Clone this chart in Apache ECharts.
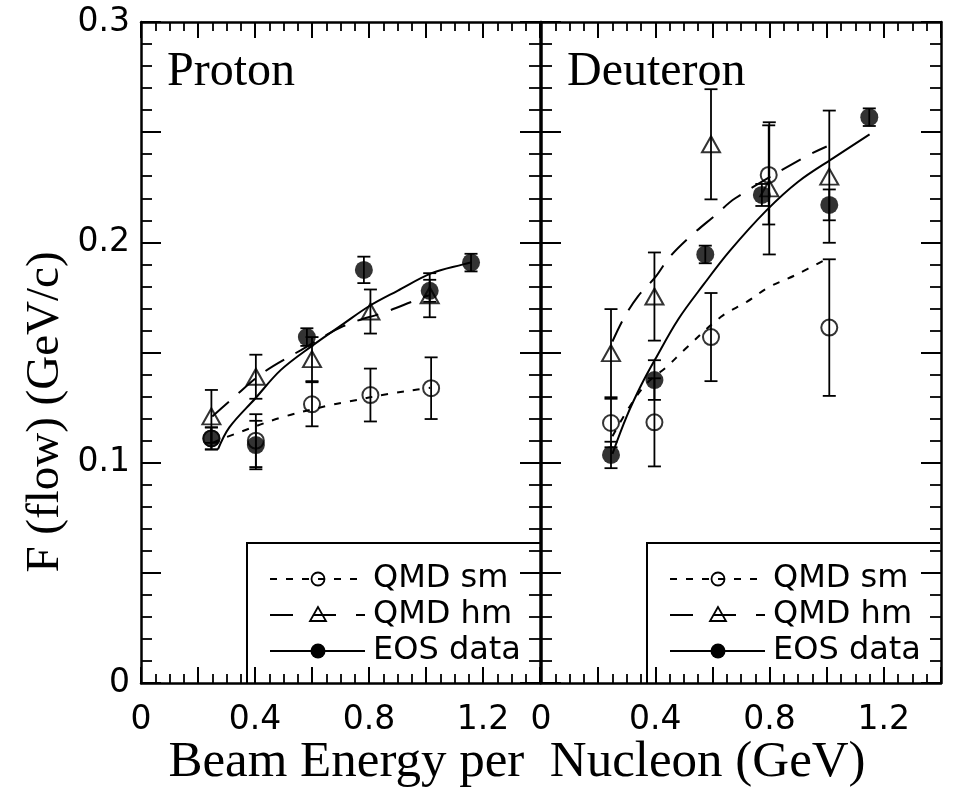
<!DOCTYPE html>
<html>
<head>
<meta charset="utf-8">
<script src="https://cdn.jsdelivr.net/npm/echarts@6/dist/echarts.min.js"></script>
<style>
html, body { margin: 0; padding: 0; background: #fff; }
#chart { width: 956px; height: 793px; }
</style>
</head>
<body>
<div id="chart"></div>
<script>
// Tick labels
const xTickLabels = ['0', '0.4', '0.8', '1.2'];
const yTickLabels = ['0', '0.1', '0.2', '0.3'];
const panelNames = ['Proton', 'Deuteron'];
const legendNames = ['QMD sm', 'QMD hm', 'EOS data'];
const xTitle = 'Beam Energy per  Nucleon (GeV)';
const yTitle = 'F (flow) (GeV/c)';

// Proton, QMD sm (open circles)
const pSmE = [0.247, 0.403, 0.600, 0.805, 1.018];
const pSmF = [0.111, 0.110, 0.1265, 0.1307, 0.1338];
const pSmErr = [0.005, 0.012, 0.010, 0.012, 0.014];
// Proton, QMD hm (open triangles)
const pHmE = [0.247, 0.403, 0.600, 0.805, 1.013];
const pHmF = [0.121, 0.139, 0.147, 0.1686, 0.176];
const pHmErr = [0.012, 0.010, 0.010, 0.010, 0.010];
// Proton, EOS data (filled circles)
const pEosE = [0.247, 0.403, 0.582, 0.782, 1.013, 1.158];
const pEosF = [0.111, 0.108, 0.157, 0.1875, 0.178, 0.1908];
const pEosErr = [0.005, 0.011, 0.004, 0.006, 0.005, 0.004];
// Proton, fitted curves
const pSmCurveE = [0.25, 0.335, 0.50, 0.664, 0.723, 0.876, 0.97, 1.015];
const pSmCurveF = [0.109, 0.1133, 0.1208, 0.1261, 0.1276, 0.1314, 0.1332, 0.134];
const pHmCurveE = [0.25, 0.32, 0.43, 0.56, 0.71, 0.86, 0.95, 1.01];
const pHmCurveF = [0.121, 0.129, 0.141, 0.151, 0.162, 0.1685, 0.173, 0.176];
const pEosCurveE = [0.27, 0.31, 0.40, 0.49, 0.60, 0.71, 0.80, 0.90, 1.02, 1.13, 1.16];
const pEosCurveF = [0.106, 0.116, 0.129, 0.142, 0.153, 0.163, 0.171, 0.178, 0.186, 0.190, 0.191];

// Deuteron, QMD sm (open circles)
const dSmE = [0.245, 0.397, 0.595, 0.797, 1.009];
const dSmF = [0.118, 0.1183, 0.157, 0.2306, 0.1613];
const dSmErr = [0.011, 0.020, 0.020, 0.0225, 0.031];
// Deuteron, QMD hm (open triangles)
const dHmE = [0.245, 0.397, 0.595, 0.799, 1.009];
const dHmF = [0.1497, 0.1754, 0.2445, 0.2245, 0.2298];
const dHmErr = [0.020, 0.020, 0.025, 0.030, 0.030];
// Deuteron, EOS data (filled circles)
const dEosE = [0.245, 0.397, 0.575, 0.773, 1.009, 1.149];
const dEosF = [0.1035, 0.1375, 0.1945, 0.2215, 0.217, 0.2568];
const dEosErr = [0.006, 0.009, 0.004, 0.005, 0.007, 0.004];
// Deuteron, fitted curves
const dSmCurveE = [0.25, 0.31, 0.37, 0.44, 0.50, 0.63, 0.72, 0.80, 0.89, 1.0];
const dSmCurveF = [0.112, 0.1254, 0.136, 0.1435, 0.151, 0.1662, 0.173, 0.1798, 0.1851, 0.1925];
const dHmCurveE = [0.25, 0.29, 0.34, 0.40, 0.45, 0.52, 0.61, 0.68, 0.92, 1.0];
const dHmCurveF = [0.155, 0.1656, 0.1756, 0.1842, 0.1933, 0.2024, 0.2123, 0.22, 0.2385, 0.2435];
const dEosCurveE = [0.25, 0.30, 0.35, 0.40, 0.48, 0.57, 0.66, 0.79, 0.90, 1.02, 1.15];
const dEosCurveF = [0.104, 0.121, 0.135, 0.147, 0.165, 0.181, 0.196, 0.2146, 0.2275, 0.238, 0.249];

const BLACK = '#000';
const SANS = '"DejaVu Sans"';
const SERIF = '"Liberation Serif"';
const SM_DASH = [7, 9];
const HM_DASH = [22, 13];

function pairs(E, F) { return E.map((e, i) => [e, F[i]]); }

function xLabel(v) {
  const k = Math.round(v * 10);
  return k % 4 === 0 ? xTickLabels[k / 4] : '';
}
function yLabel(v) {
  const k = Math.round(v * 100);
  return k % 10 === 0 ? yTickLabels[k / 10] : '';
}

function xAxis(grid, pos, withLabels) {
  return {
    type: 'value', gridIndex: grid, position: pos, min: 0, max: 1.4, interval: 0.2,
    axisLine: { show: true, onZero: false, lineStyle: { color: BLACK, width: 2.5 } },
    axisTick: { show: true, inside: true, length: 16, lineStyle: { color: BLACK, width: 2 } },
    minorTick: { show: true, splitNumber: 4, length: 9, lineStyle: { color: BLACK, width: 1.8 } },
    splitLine: { show: false }, minorSplitLine: { show: false },
    axisLabel: withLabels ? {
      show: true, margin: 21, fontSize: 33, fontFamily: SANS, color: BLACK,
      formatter: xLabel, showMinLabel: true, showMaxLabel: true
    } : { show: false }
  };
}
function yAxis(grid, pos, withLabels) {
  return {
    type: 'value', gridIndex: grid, position: pos, min: 0, max: 0.3, interval: 0.05,
    axisLine: { show: true, onZero: false, lineStyle: { color: BLACK, width: 2.5 } },
    axisTick: { show: true, inside: true, length: 20, lineStyle: { color: BLACK, width: 2 } },
    minorTick: { show: true, splitNumber: 5, length: 11, lineStyle: { color: BLACK, width: 1.8 } },
    splitLine: { show: false }, minorSplitLine: { show: false },
    axisLabel: withLabels ? {
      show: true, margin: 11, fontSize: 33, fontFamily: SANS, color: BLACK,
      formatter: yLabel, showMinLabel: true, showMaxLabel: true
    } : { show: false }
  };
}

function curve(E, F, dash, xi, yi) {
  return {
    type: 'line', xAxisIndex: xi, yAxisIndex: yi, data: pairs(E, F),
    smooth: 0.35, symbol: 'none', showSymbol: false, silent: true, z: 2,
    lineStyle: { color: BLACK, width: 2, type: dash }
  };
}

function errorBars(E, F, Err, xi, yi) {
  return {
    type: 'custom', xAxisIndex: xi, yAxisIndex: yi, silent: true, z: 3,
    data: E.map((e, i) => [e, F[i] - Err[i], F[i] + Err[i]]),
    encode: { x: 0, y: [1, 2] },
    renderItem(params, api) {
      const lo = api.coord([api.value(0), api.value(1)]);
      const hi = api.coord([api.value(0), api.value(2)]);
      const w = 6.5;
      const st = { stroke: BLACK, lineWidth: 1.8 };
      return {
        type: 'group', children: [
          { type: 'line', shape: { x1: hi[0], y1: hi[1], x2: lo[0], y2: lo[1] }, style: st },
          { type: 'line', shape: { x1: hi[0] - w, y1: hi[1], x2: hi[0] + w, y2: hi[1] }, style: st },
          { type: 'line', shape: { x1: lo[0] - w, y1: lo[1], x2: lo[0] + w, y2: lo[1] }, style: st }
        ]
      };
    }
  };
}

function markers(E, F, symbol, size, filled, xi, yi) {
  return {
    type: 'scatter', xAxisIndex: xi, yAxisIndex: yi, data: pairs(E, F), silent: true, z: 4,
    symbol: symbol, symbolSize: size,
    itemStyle: filled
      ? { color: BLACK, borderWidth: 0 }
      : { color: 'rgba(255,255,255,0)', borderColor: BLACK, borderWidth: 2 }
  };
}

function panelSeries(xi, yi, d) {
  return [
    curve(d.smCE, d.smCF, SM_DASH, xi, yi),
    curve(d.hmCE, d.hmCF, HM_DASH, xi, yi),
    curve(d.eosCE, d.eosCF, 'solid', xi, yi),
    errorBars(d.smE, d.smF, d.smErr, xi, yi),
    errorBars(d.hmE, d.hmF, d.hmErr, xi, yi),
    errorBars(d.eosE, d.eosF, d.eosErr, xi, yi),
    markers(d.smE, d.smF, 'circle', 16, false, xi, yi),
    markers(d.hmE, d.hmF, 'triangle', [18, 16], false, xi, yi),
    markers(d.eosE, d.eosF, 'circle', 18, true, xi, yi)
  ];
}

// Boxed legend drawn in the lower right corner of each panel
function legend(ox) {
  const els = [];
  els.push({
    type: 'polyline', silent: true, z: 10,
    shape: { points: [[247 + ox, 683], [247 + ox, 543], [540 + ox, 543]] },
    style: { stroke: BLACK, lineWidth: 2, fill: null }
  });
  const rows = [579, 615, 651];
  const dashes = [SM_DASH, [23, 20], null];
  rows.forEach((y, i) => {
    els.push({
      type: 'line', silent: true, z: 10,
      shape: { x1: 270 + ox, y1: y, x2: 365 + ox, y2: y },
      style: { stroke: BLACK, lineWidth: 1.8, lineDash: dashes[i] }
    });
    const cx = 318 + ox;
    if (i === 0) {
      els.push({ type: 'circle', silent: true, z: 11, shape: { cx: cx, cy: y, r: 6.5 },
        style: { stroke: BLACK, lineWidth: 1.8, fill: null } });
    } else if (i === 1) {
      els.push({ type: 'polygon', silent: true, z: 11,
        shape: { points: [[cx, y - 8], [cx - 8, y + 6], [cx + 8, y + 6]] },
        style: { stroke: BLACK, lineWidth: 1.8, fill: null } });
    } else {
      els.push({ type: 'circle', silent: true, z: 11, shape: { cx: cx, cy: y, r: 7.5 },
        style: { fill: BLACK } });
    }
    els.push({
      type: 'text', silent: true, z: 11, x: 373 + ox, y: y,
      style: { text: legendNames[i], font: '32px ' + SANS, fill: BLACK, align: 'left', verticalAlign: 'middle' }
    });
  });
  return els;
}

const proton = {
  smE: pSmE, smF: pSmF, smErr: pSmErr, hmE: pHmE, hmF: pHmF, hmErr: pHmErr,
  eosE: pEosE, eosF: pEosF, eosErr: pEosErr,
  smCE: pSmCurveE, smCF: pSmCurveF, hmCE: pHmCurveE, hmCF: pHmCurveF, eosCE: pEosCurveE, eosCF: pEosCurveF
};
const deuteron = {
  smE: dSmE, smF: dSmF, smErr: dSmErr, hmE: dHmE, hmF: dHmF, hmErr: dHmErr,
  eosE: dEosE, eosF: dEosF, eosErr: dEosErr,
  smCE: dSmCurveE, smCF: dSmCurveF, hmCE: dHmCurveE, hmCF: dHmCurveF, eosCE: dEosCurveE, eosCF: dEosCurveF
};

const chart = echarts.init(document.getElementById('chart'), null, { renderer: 'canvas' });
chart.setOption({
  animation: false,
  backgroundColor: '#fff',
  grid: [
    { left: 141, top: 22, width: 399, height: 661 },
    { left: 541, top: 22, width: 400, height: 661 }
  ],
  xAxis: [
    xAxis(0, 'bottom', true), xAxis(0, 'top', false),
    xAxis(1, 'bottom', true), xAxis(1, 'top', false)
  ],
  yAxis: [
    yAxis(0, 'left', true), yAxis(0, 'right', false),
    yAxis(1, 'left', false), yAxis(1, 'right', false)
  ],
  series: [].concat(panelSeries(0, 0, proton), panelSeries(2, 2, deuteron)),
  graphic: [].concat(
    legend(0), legend(400),
    [
      { type: 'text', x: 167, y: 72, silent: true,
        style: { text: panelNames[0], font: '48px ' + SERIF, fill: BLACK, align: 'left', verticalAlign: 'middle' } },
      { type: 'text', x: 567, y: 72, silent: true,
        style: { text: panelNames[1], font: '48px ' + SERIF, fill: BLACK, align: 'left', verticalAlign: 'middle' } },
      { type: 'text', x: 517, y: 763, silent: true,
        style: { text: xTitle, font: '51px ' + SERIF, fill: BLACK, align: 'center', verticalAlign: 'middle' } },
      { type: 'text', x: 46, y: 412, rotation: Math.PI / 2, silent: true,
        style: { text: yTitle, font: '47px ' + SERIF, fill: BLACK, align: 'center', verticalAlign: 'middle' } }
    ]
  )
});
</script>
</body>
</html>
